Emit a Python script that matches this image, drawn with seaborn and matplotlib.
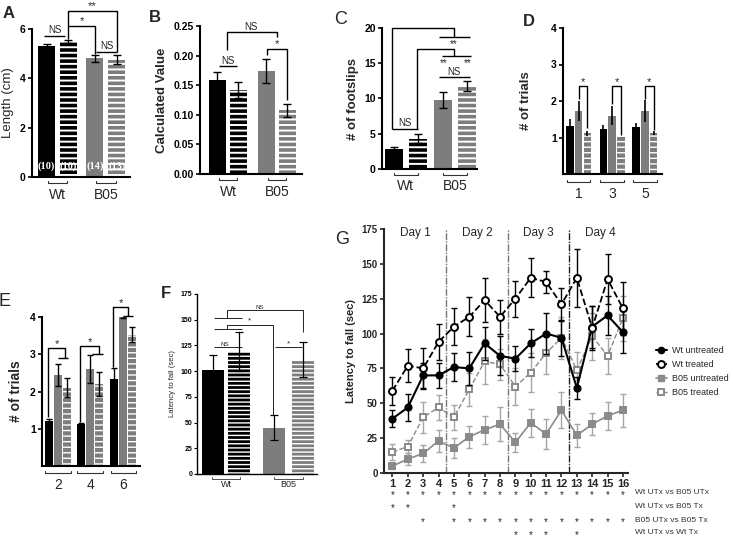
import numpy as np
import matplotlib
matplotlib.use("Agg")
import matplotlib.pyplot as plt
import matplotlib.transforms as mtransforms
from matplotlib.lines import Line2D
import seaborn as sns

# ---------------- data ----------------
A_groups = ["Wt", "B05"]
A_values = [5.30, 5.50, 4.82, 4.75]
A_errors = [0.08, 0.07, 0.14, 0.18]
A_counts = ["(10)", "(10)", "(14)", "(13)"]
A_yticks = [0, 2, 4, 6]

B_groups = ["Wt", "B05"]
B_values = [0.159, 0.142, 0.174, 0.108]
B_errors = [0.013, 0.013, 0.020, 0.011]
B_yticks = [0.00, 0.05, 0.10, 0.15, 0.20, 0.25]

C_groups = ["Wt", "B05"]
C_values = [2.8, 4.3, 9.8, 11.8]
C_errors = [0.35, 0.65, 1.1, 0.7]
C_yticks = [0, 5, 10, 15, 20]

D_groups = ["1", "3", "5"]
D_values = [1.32, 1.73, 1.12, 1.22, 1.60, 1.02, 1.30, 1.73, 1.12]
D_errors = [0.18, 0.27, 0.07, 0.12, 0.27, 0.0, 0.10, 0.30, 0.06]
D_yticks = [1, 2, 3, 4]

E_groups = ["2", "4", "6"]
E_values = [1.22, 2.45, 2.10, 1.12, 2.60, 2.20, 2.33, 4.00, 3.52]
E_errors = [0.05, 0.30, 0.25, 0.03, 0.37, 0.32, 0.30, 0.03, 0.20]
E_yticks = [1, 2, 3, 4]

F_groups = ["Wt", "B05"]
F_values = [101, 119, 45, 111]
F_errors = [15, 19, 12, 17]
F_yticks = [0, 25, 50, 75, 100, 125, 150, 175]

G_trials = list(range(1, 17))
G_wt_untreated = [39, 47, 70, 70, 76, 75, 93, 84, 82, 93, 100, 97, 61, 105, 113, 101]
G_wt_untreated_err = [6, 10, 9, 9, 10, 12, 12, 14, 9, 10, 15, 13, 8, 15, 14, 15]
G_wt_treated = [59, 77, 75, 94, 105, 112, 124, 112, 125, 140, 137, 121, 140, 104, 139, 118]
G_wt_treated_err = [10, 12, 15, 13, 13, 14, 16, 12, 13, 14, 8, 12, 21, 16, 18, 19]
G_b05_untreated = [5, 10, 14, 23, 18, 26, 31, 35, 22, 36, 28, 45, 27, 35, 41, 45]
G_b05_untreated_err = [2, 4, 6, 8, 7, 8, 10, 12, 7, 10, 11, 13, 8, 8, 10, 12]
G_b05_treated = [15, 19, 40, 47, 40, 60, 80, 78, 62, 72, 86, 97, 74, 98, 84, 111]
G_b05_treated_err = [6, 5, 11, 9, 9, 12, 16, 11, 13, 14, 15, 15, 13, 17, 13, 16]
G_series_names = ["Wt untreated", "Wt treated", "B05 untreated", "B05 treated"]
G_days = ["Day 1", "Day 2", "Day 3", "Day 4"]
G_day_bounds = [4.5, 8.5, 12.5]
G_yticks = [0, 25, 50, 75, 100, 125, 150, 175]
G_comparisons = ["Wt UTx vs B05 UTx", "Wt UTx vs B05 Tx", "B05 UTx vs B05 Tx", "Wt UTx vs Wt Tx"]
G_sig_trials = [
    list(range(1, 17)),
    [1, 2, 5],
    [3] + list(range(5, 17)),
    [9, 10, 11, 13],
]

# ---------------- style ----------------
sns.set_style("ticks")
plt.rcParams["font.family"] = ["Liberation Sans", "DejaVu Sans"]
plt.rcParams["hatch.linewidth"] = 1.6
plt.rcParams["axes.linewidth"] = 1.5
plt.rcParams["xtick.major.width"] = 1.2
plt.rcParams["ytick.major.width"] = 1.2
plt.rcParams["ytick.major.size"] = 3
plt.rcParams["xtick.major.size"] = 3

BLACK = "#000000"
GRAY = "#7d7d7d"
GRAYL = "#8a8a8a"
GRAYE = "#a5a5a5"

W, H = 733, 540
fig = plt.figure(figsize=(W / 100, H / 100), dpi=100)
fig.patch.set_facecolor("white")


def add_ax(l, t, r, b):
    return fig.add_axes([l / W, 1 - b / H, (r - l) / W, (b - t) / H])


def draw_bars(ax, pos, vals, errs, colors, hatches, width, capsize=3, elw=1.0, hlw=None):
    sns.barplot(x=pos, y=vals, native_scale=True, orient="x", width=width,
                errorbar=None, color=GRAY, ax=ax, linewidth=0, saturation=1)
    patches = sorted(ax.patches, key=lambda p: p.get_x())
    for p, c, h in zip(patches, colors, hatches):
        p.set_facecolor(c)
        p.set_linewidth(0)
        if h:
            p.set_edgecolor("white")
            p.set_hatch(h)
            if hlw is not None:
                try:
                    p.set_hatch_linewidth(hlw)
                except AttributeError:
                    pass
    ax.errorbar(pos, vals, yerr=errs, fmt="none", ecolor="black", elinewidth=elw,
                capsize=capsize, capthick=elw, zorder=3)


def style(ax, xlim, ylim, yticks, labels, fs=7.5, lw=1.5):
    ax.set_xlim(*xlim)
    ax.set_ylim(*ylim)
    ax.set_xticks([])
    ax.set_xlabel("")
    ax.set_yticks(yticks)
    ax.set_yticklabels(labels, fontsize=fs, fontweight="bold")
    for s in ["top", "right"]:
        ax.spines[s].set_visible(False)
    for s in ["left", "bottom"]:
        ax.spines[s].set_linewidth(lw)
        ax.spines[s].set_color("black")
    ax.tick_params(axis="y", pad=1.5, colors="black")
    ax.set_facecolor("none")


def group_labels(ax, centers, labels, half, fs, y_br=-0.04, y_lab=-0.12, tick=0.012, lw=0.8):
    trans = mtransforms.blended_transform_factory(ax.transData, ax.transAxes)
    for c, lab in zip(centers, labels):
        ax.plot([c - half, c - half, c + half, c + half],
                [y_br + tick, y_br, y_br, y_br + tick],
                transform=trans, clip_on=False, color="#333333", lw=lw)
        ax.text(c, y_lab, lab, transform=trans, ha="center", va="center", fontsize=fs)


def path(ax, xs, ys, lw=1.0):
    ax.plot(xs, ys, color="black", lw=lw, clip_on=False, solid_capstyle="butt")


def note(ax, x, y, s, fs=7, va="bottom"):
    ax.text(x, y, s, ha="center", va=va, fontsize=fs, clip_on=False)


def letter(x, y, s, weight="bold", fs=12):
    fig.text(x / W, 1 - y / H, s, fontsize=fs, fontweight=weight, ha="center", va="center")


# ---------------- Panel A ----------------
axA = add_ax(32, 29, 130, 177)
posA = [0, 1, 2.2, 3.2]
draw_bars(axA, posA, A_values, A_errors, [BLACK, BLACK, GRAY, GRAY], [None, "---", None, "---"], 0.77,
          hlw=1.4)
style(axA, (-0.66, 3.8), (0, 6), A_yticks, [str(t) for t in A_yticks])
axA.set_ylabel("Length (cm)", fontsize=9.5, labelpad=4)
for p, c in zip(posA, A_counts):
    axA.text(p, 0.45, c, color="white", ha="center", va="center", fontsize=7.5,
             family=["Liberation Serif", "DejaVu Serif"], fontweight="bold")
group_labels(axA, [(posA[0] + posA[1]) / 2, (posA[2] + posA[3]) / 2], A_groups, 0.45, 10)
path(axA, [-0.1, 0.85], [5.72, 5.72])
note(axA, 0.38, 5.74, "NS")
path(axA, [posA[1], posA[1], posA[2], posA[2]], [5.6, 6.12, 6.12, 5.0])
note(axA, 1.6, 6.12, "*", fs=8)
path(axA, [posA[1], posA[1], posA[3], posA[3]], [6.12, 6.73, 6.73, 5.07])
note(axA, 2.1, 6.73, "**", fs=8)
path(axA, [2.25, 3.2], [5.07, 5.07])
note(axA, 2.75, 5.09, "NS")
letter(9, 14, "A")

# ---------------- Panel B ----------------
axB = add_ax(200, 26, 302, 174)
posB = [0, 1, 2.33, 3.33]
draw_bars(axB, posB, B_values, B_errors, [BLACK, BLACK, GRAY, GRAY], [None, "---", None, "---"], 0.8,
          hlw=1.4)
style(axB, (-0.83, 4.02), (0, 0.25), B_yticks, ["%.2f" % t for t in B_yticks])
axB.set_ylabel("Calculated Value", fontsize=9.5, fontweight="bold", labelpad=4)
group_labels(axB, [(posB[0] + posB[1]) / 2, (posB[2] + posB[3]) / 2], B_groups, 0.45, 10)
path(axB, [0.07, 0.93], [0.182, 0.182])
note(axB, 0.5, 0.183, "NS")
path(axB, [0.45, 0.45, 2.83, 2.83], [0.21, 0.24, 0.24, 0.231])
note(axB, 1.6, 0.2405, "NS")
path(axB, [2.36, 2.36, 3.31, 3.31], [0.201, 0.211, 0.211, 0.125])
note(axB, 2.85, 0.211, "*", fs=8)
letter(155, 17, "B")

# ---------------- Panel C ----------------
axC = add_ax(382, 28, 477, 169)
posC = [0, 1, 2.05, 3.05]
draw_bars(axC, posC, C_values, C_errors, [BLACK, BLACK, GRAY, GRAY], [None, "---", None, "---"], 0.74,
          hlw=1.4)
style(axC, (-0.49, 3.45), (0, 20), C_yticks, [str(t) for t in C_yticks])
axC.set_ylabel("# of footslips", fontsize=9.5, fontweight="bold", labelpad=4)
group_labels(axC, [(posC[0] + posC[1]) / 2, (posC[2] + posC[3]) / 2], C_groups, 0.5, 10)
path(axC, [-0.08, 1.02], [5.67, 5.67])
note(axC, 0.47, 5.75, "NS")
path(axC, [-0.08, -0.08, 2.49, 2.49], [5.67, 20, 20, 18.7])
path(axC, [1.88, 3.18], [18.7, 18.7])
note(axC, 2.49, 18.4, "**", fs=7, va="top")
path(axC, [0.98, 0.98, 2.49, 2.49], [5.67, 17.0, 17.0, 16.0])
path(axC, [2.0, 3.22], [16.0, 16.0])
note(axC, 2.05, 15.7, "**", fs=7, va="top")
note(axC, 3.05, 15.7, "**", fs=7, va="top")
path(axC, [1.88, 3.18], [13.0, 13.0])
note(axC, 2.5, 13.1, "NS")
letter(341, 20, "C", weight="normal", fs=13)

# ---------------- Panel D ----------------
axD = add_ax(563, 28, 662, 174)
baseD = [0, 3.85, 7.6]
posD = [b + k for b in baseD for k in range(3)]
draw_bars(axD, posD, D_values, D_errors, [BLACK, GRAY, GRAY] * 3, [None, None, "---"] * 3, 0.85,
          capsize=0, elw=1.2, hlw=1.0)
style(axD, (-0.8, 10.57), (0, 4), D_yticks, [str(t) for t in D_yticks])
axD.set_ylabel("# of trials", fontsize=9.5, fontweight="bold", labelpad=14)
group_labels(axD, [b + 1 for b in baseD], D_groups, 1.35, 10, y_br=-0.055, y_lab=-0.135)
for b, lo, hi in zip(baseD, [2.05, 1.92, 2.06], [1.25, 1.06, 1.2]):
    path(axD, [b + 1, b + 1, b + 2, b + 2], [lo, 2.41, 2.41, hi])
    note(axD, b + 1.5, 2.38, "*", fs=8)
letter(529, 22, "D")

# ---------------- Panel E ----------------
axE = add_ax(42, 317, 140, 466)
baseE = [0, 3.55, 7.25]
posE = [b + k for b in baseE for k in range(3)]
draw_bars(axE, posE, E_values, E_errors, [BLACK, GRAY, GRAY] * 3, [None, None, "---"] * 3, 0.88,
          capsize=2, elw=1.0, hlw=1.0)
style(axE, (-0.78, 10.1), (0, 4), E_yticks, [str(t) for t in E_yticks])
axE.set_ylabel("# of trials", fontsize=10, fontweight="bold", labelpad=5)
group_labels(axE, [b + 1 for b in baseE], E_groups, 1.4, 10, y_br=-0.047, y_lab=-0.13)
E_br = [(1.32, 3.17, 1.78, 2.9, 1.0, 2.1),
        (1.18, 3.22, 5.56, 3.0, 4.78, 6.0),
        (2.66, 4.27, 8.78, 4.03, 8.2, 9.33)]
for b, (lo, top, xr, yr, h1, h2) in zip(baseE, E_br):
    path(axE, [b - 0.1, b - 0.1, xr, xr], [lo, top, top, yr])
    path(axE, [h1, h2], [yr, yr])
    note(axE, (b + xr) / 2, top - 0.03, "*", fs=8)
letter(5, 302, "E", weight="normal", fs=13)

# ---------------- Panel F ----------------
axF = add_ax(197, 294, 317, 474)
posF = [0, 1, 2.35, 3.45]
draw_bars(axF, posF, F_values, F_errors, [BLACK, BLACK, GRAY, GRAY], [None, "----", None, "----"], 0.85,
          capsize=3, elw=0.9, hlw=1.0)
style(axF, (-0.62, 4.0), (0, 175), F_yticks, [str(t) for t in F_yticks], fs=5, lw=1.0)
axF.tick_params(axis="y", length=2, width=0.8)
axF.set_ylabel("Latency to fall (sec)", fontsize=5.5, labelpad=3)
group_labels(axF, [(posF[0] + posF[1]) / 2, (posF[2] + posF[3]) / 2], F_groups, 0.55, 6.5,
             y_br=-0.025, y_lab=-0.06, tick=0.01, lw=0.6)
lwF = 0.6
path(axF, [0.04, 1.12], [123, 123], lw=lwF)
note(axF, 0.45, 123.5, "NS", fs=4.5)
path(axF, [0.04, 1.12], [141, 141], lw=lwF)
path(axF, [0.04, 1.12], [151.5, 151.5], lw=lwF)
path(axF, [0.54, 0.54, 2.31, 2.31], [141, 145, 145, 57], lw=lwF)
note(axF, 1.4, 145, "*", fs=6)
path(axF, [0.54, 0.54, 3.46, 3.46], [151.5, 159, 159, 138], lw=lwF)
note(axF, 1.8, 159.5, "NS", fs=4.5)
path(axF, [2.38, 3.42], [123, 123], lw=lwF)
note(axF, 2.9, 123, "*", fs=6)
letter(166, 293, "F")

# ---------------- Panel G ----------------
axG = add_ax(384, 229, 628, 473)
G_styles = [
    (G_b05_untreated, G_b05_untreated_err, GRAYL, "-", "s", GRAYL, GRAYL, 1.2, 4.5, GRAYE, 2),
    (G_b05_treated, G_b05_treated_err, GRAYL, "--", "s", "white", GRAYL, 1.0, 5, GRAYE, 2),
    (G_wt_untreated, G_wt_untreated_err, BLACK, "-", "o", BLACK, BLACK, 1.5, 4.5, BLACK, 4),
    (G_wt_treated, G_wt_treated_err, BLACK, "--", "o", "white", BLACK, 1.3, 5, BLACK, 4),
]
for vals, errs, c, ls, m, mfc, mec, lw, ms, ec, z in G_styles:
    axG.errorbar(G_trials, vals, yerr=errs, fmt="none", ecolor=ec, elinewidth=1.0,
                 capsize=2.5, capthick=1.0, zorder=z - 1)
    sns.lineplot(x=G_trials, y=vals, ax=axG, color=c, linestyle=ls, marker=m,
                 markersize=ms, markerfacecolor=mfc, markeredgecolor=mec,
                 markeredgewidth=1.4, linewidth=lw, errorbar=None, zorder=z)
for i, xb in enumerate(G_day_bounds):
    axG.axvline(xb, color="#777777" if i < 2 else "#222222", lw=1.0,
                linestyle=(0, (5, 1, 1, 1)), zorder=1)
for i, d in enumerate(G_days):
    axG.text(2.5 + 4 * i, 172, d, ha="center", va="center", fontsize=8.5)
axG.set_xlim(0.45, 16.33)
axG.set_ylim(0, 175)
axG.set_yticks(G_yticks)
axG.set_yticklabels([str(t) for t in G_yticks], fontsize=7, fontweight="bold")
axG.set_xticks(G_trials)
axG.set_xticklabels([str(t) for t in G_trials], fontsize=8, fontweight="bold")
axG.tick_params(axis="x", pad=1.5)
axG.tick_params(axis="y", pad=1.5)
for s in ["top", "right"]:
    axG.spines[s].set_visible(False)
axG.set_xlabel("")
axG.set_ylabel("Latency to fall (sec)", fontsize=8, fontweight="bold", labelpad=4)
axG.set_facecolor("none")

transG = mtransforms.blended_transform_factory(axG.transData, fig.transFigure)
row_y = [493, 506, 520, 533]
for yy, trials, lab in zip(row_y, G_sig_trials, G_comparisons):
    for t in trials:
        axG.text(t, 1 - (yy + 2) / H, "*", transform=transG, ha="center", va="center",
                 fontsize=7, clip_on=False)
    fig.text(635 / W, 1 - yy / H, lab, fontsize=6, color="#333333", ha="left", va="center")

handles = [
    Line2D([0], [0], color=BLACK, lw=1.5, marker="o", ms=4.5, mfc=BLACK, mec=BLACK),
    Line2D([0], [0], color=BLACK, lw=1.3, ls="--", marker="o", ms=5, mfc="white", mec=BLACK, mew=1.4),
    Line2D([0], [0], color=GRAYL, lw=1.2, marker="s", ms=4.5, mfc=GRAYL, mec=GRAYL),
    Line2D([0], [0], color=GRAYL, lw=1.0, ls="--", marker="s", ms=5, mfc="white", mec=GRAYL, mew=1.4),
]
fig.legend(handles, G_series_names, loc="upper left", bbox_to_anchor=(656 / W, 1 - 346 / H),
           frameon=False, fontsize=6.5, handlelength=1.2, handletextpad=0.6,
           labelspacing=0.55, borderpad=0, borderaxespad=0)
letter(342, 240, "G", weight="normal", fs=13)

fig.savefig("out.png", dpi=100)
